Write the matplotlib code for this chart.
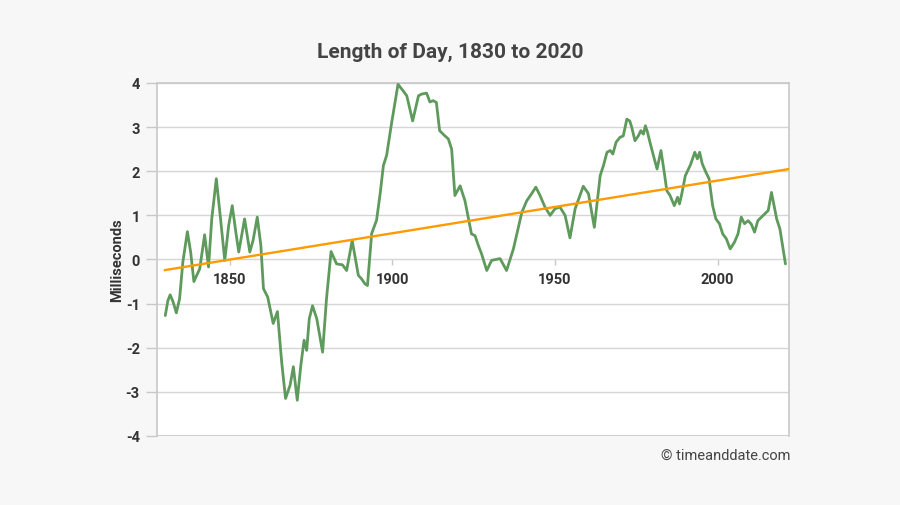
import matplotlib
matplotlib.use("Agg")
import matplotlib.pyplot as plt
import numpy as np

plt.rcParams['font.family'] = ['Roboto', 'DejaVu Sans']
plt.rcParams['axes.unicode_minus'] = False

title = "Length of Day, 1830 to 2020"
ylabel = "Milliseconds"
credit = "\u00a9 timeanddate.com"

years = [
    1830.1, 1830.9, 1831.6, 1832.5, 1833.5, 1834.5, 1835.5, 1836.9, 1837.9, 1838.9,
    1840.7, 1842.2, 1843.4, 1844.4, 1845.8, 1847.1, 1848.4, 1849.6, 1850.7, 1851.8,
    1852.7, 1854.5, 1856.1, 1857.1, 1858.4, 1859.5, 1860.3, 1861.6, 1863.3, 1864.6,
    1865.9, 1867.1, 1868.5, 1869.5, 1870.7, 1871.8, 1872.8, 1873.6, 1874.4, 1875.4,
    1876.7, 1878.5, 1879.7, 1881.1, 1882.8, 1884.6, 1885.9, 1887.6, 1889.5, 1890.5,
    1891.5, 1892.3, 1893.6, 1895.1, 1896.2, 1897.2, 1898.2, 1899.7, 1901.7, 1903.3,
    1904.4, 1906.2, 1908.0, 1909.0, 1910.5, 1911.5, 1912.5, 1913.5, 1914.5, 1916.0,
    1917.2, 1918.2, 1919.2, 1920.8, 1922.3, 1924.3, 1925.4, 1926.4, 1927.4, 1929.0,
    1930.5, 1933.1, 1935.1, 1937.2, 1939.8, 1941.3, 1942.8, 1944.1, 1945.4, 1946.9,
    1948.5, 1950.0, 1951.5, 1953.1, 1954.6, 1956.2, 1958.7, 1960.3, 1962.1, 1963.9,
    1964.9, 1966.0, 1967.0, 1967.8, 1968.8, 1970.0, 1971.0, 1972.1, 1973.0, 1973.6,
    1974.6, 1975.7, 1976.4, 1977.2, 1977.8, 1978.4, 1979.1, 1980.3, 1981.4, 1982.6,
    1983.6, 1984.4, 1985.4, 1986.7, 1987.7, 1988.3, 1988.9, 1990.1, 1991.7, 1993.0,
    1993.8, 1994.5, 1995.3, 1996.4, 1997.4, 1998.5, 1999.5, 2000.6, 2001.6, 2002.7,
    2003.9, 2005.2, 2006.3, 2007.3, 2008.3, 2009.4, 2010.4, 2011.4, 2012.4, 2013.5,
    2014.5, 2015.6, 2016.6, 2017.4, 2018.2, 2019.2, 2020.0, 2020.9,
]
lod_ms = [
    -1.27, -0.93, -0.80, -0.96, -1.21, -0.89, -0.06, 0.63, 0.17, -0.50,
    -0.21, 0.56, -0.17, 0.92, 1.83, 0.92, -0.02, 0.77, 1.22, 0.62,
    0.17, 0.92, 0.17, 0.43, 0.96, 0.32, -0.66, -0.85, -1.45, -1.18,
    -2.32, -3.15, -2.85, -2.43, -3.19, -2.40, -1.83, -2.06, -1.34, -1.05,
    -1.34, -2.10, -0.89, 0.18, -0.10, -0.12, -0.25, 0.43, -0.36, -0.44,
    -0.55, -0.59, 0.59, 0.89, 1.49, 2.13, 2.36, 3.08, 3.97, 3.82,
    3.71, 3.14, 3.71, 3.75, 3.77, 3.57, 3.60, 3.56, 2.92, 2.81,
    2.73, 2.50, 1.45, 1.67, 1.33, 0.58, 0.54, 0.32, 0.13, -0.25,
    -0.02, 0.02, -0.25, 0.24, 1.07, 1.33, 1.49, 1.64, 1.45, 1.19,
    1.00, 1.15, 1.19, 1.00, 0.49, 1.15, 1.66, 1.49, 0.73, 1.90,
    2.13, 2.43, 2.47, 2.39, 2.66, 2.77, 2.80, 3.18, 3.14, 3.00,
    2.69, 2.81, 2.92, 2.84, 3.03, 2.90, 2.69, 2.35, 2.05, 2.47,
    1.98, 1.56, 1.45, 1.22, 1.41, 1.26, 1.45, 1.90, 2.15, 2.43,
    2.28, 2.43, 2.17, 1.98, 1.83, 1.22, 0.92, 0.81, 0.58, 0.47,
    0.24, 0.39, 0.58, 0.96, 0.81, 0.88, 0.80, 0.62, 0.88, 0.96,
    1.03, 1.11, 1.52, 1.22, 0.92, 0.69, 0.32, -0.10,
]
trend_years = [1830, 2022]
trend_values = [-0.24, 2.05]

x_ticks = [1850, 1900, 1950, 2000]
y_ticks = [4, 3, 2, 1, 0, -1, -2, -3, -4]

bg = "#f7f7f7"
fig = plt.figure(figsize=(9, 5.06), dpi=100, facecolor=bg)
ax = fig.add_axes([0.1739, 0.1364, 0.7028, 0.6976])
ax.set_facecolor("white")

ax.plot(years, lod_ms, color="#5e9a5c", lw=2.0, solid_joinstyle="round",
        solid_capstyle="round", zorder=3)
ax.plot(trend_years, trend_values, color="#ff9a00", lw=1.7, zorder=4)

ax.set_xlim(1827.4, 2022.0)
ax.set_ylim(-4, 4)

grid_c = "#d6d6d6"
ax.set_yticks(y_ticks)
ax.set_yticklabels([str(v) for v in y_ticks])
ax.yaxis.grid(True, color=grid_c, lw=1.0)
ax.set_axisbelow(True)

ax.set_xticks(x_ticks)
ax.set_xticklabels([str(v) for v in x_ticks])
ax.spines['bottom'].set_position(('data', 0))
ax.spines['bottom'].set_color('none')
ax.axhline(-4, color="#c8c8c8", lw=1.2, zorder=2)
for s in ['left', 'right', 'top']:
    ax.spines[s].set_color("#c8c8c8")
    ax.spines[s].set_linewidth(1.2)

ax.tick_params(axis='y', length=8, width=1, color="#c8c8c8", pad=4,
               labelsize=10.5, labelcolor="#333333")
ax.tick_params(axis='x', length=4, width=1, color="#c8c8c8", pad=5,
               labelsize=10.5, labelcolor="#333333")
for lab in ax.get_xticklabels() + ax.get_yticklabels():
    lab.set_fontweight('bold')

ax.set_ylabel(ylabel, fontsize=10.5, fontweight='bold', color="#333333", labelpad=1)

fig.text(0.5, 0.897, title, ha='center', va='center', fontsize=15,
         fontweight='bold', color="#444444")
fig.text(0.878, 0.099, credit, ha='right', va='center', fontsize=10.5,
         color="#444444")

fig.savefig("out.png", dpi=100, facecolor=bg)
